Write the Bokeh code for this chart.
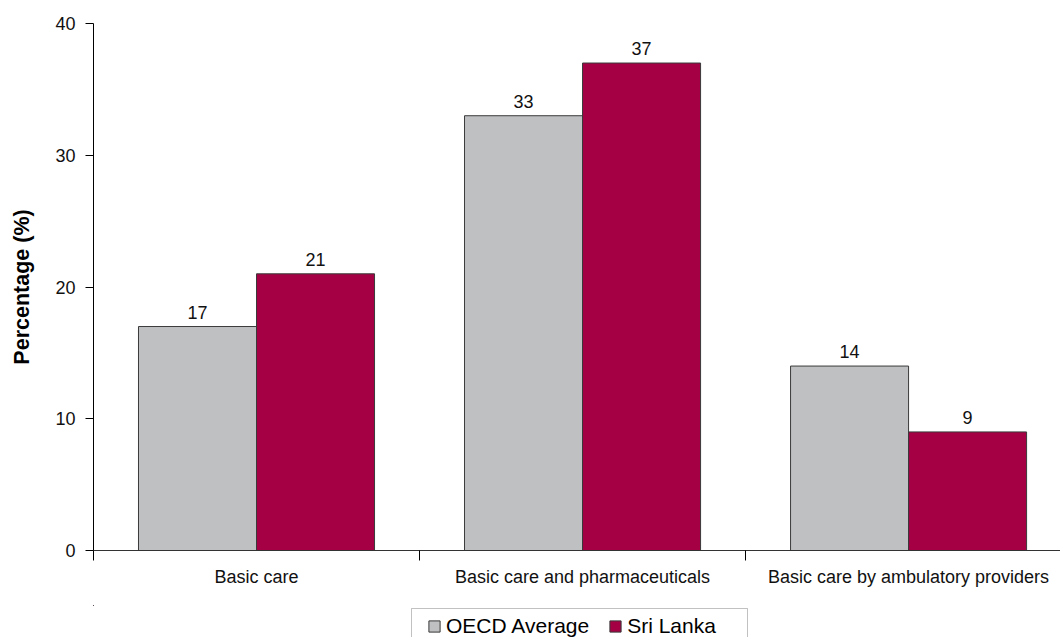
from bokeh.plotting import figure
from bokeh.layouts import column
from bokeh.models import (ColumnDataSource, FixedTicker, Legend, LegendItem, Range1d,
                          BoxAnnotation)
from bokeh.transform import dodge
from bokeh.core.properties import value
from bokeh.embed import file_html
from bokeh.resources import INLINE

categories = ["Basic care", "Basic care and pharmaceuticals", "Basic care by ambulatory providers"]
oecd = [17, 33, 14]
sri_lanka = [21, 37, 9]
series_names = ["OECD Average", "Sri Lanka"]
y_ticks = [0, 10, 20, 30, 40]

GRAY = "#bfc0c2"
RED = "#a50044"
EDGE = "#3a3a3a"
FONT = "Liberation Sans"
BW = 0.362

xs = [i + 0.5 for i in range(len(categories))]
src = ColumnDataSource(dict(x=xs, oecd=oecd, sl=sri_lanka,
                            oecd_t=[str(v) for v in oecd], sl_t=[str(v) for v in sri_lanka]))

p = figure(width=1060, height=605, output_backend="svg", toolbar_location=None,
           x_range=Range1d(0, 2.966), y_range=Range1d(0, 40),
           min_border_left=93, min_border_right=0, min_border_top=23, min_border_bottom=55)
p.outline_line_color = None
p.grid.visible = False
p.background_fill_color = "white"

r1 = p.vbar(x=dodge("x", -BW / 2, range=p.x_range), top="oecd", width=BW, source=src,
            fill_color=GRAY, line_color=EDGE, line_width=1)
r2 = p.vbar(x=dodge("x", BW / 2, range=p.x_range), top="sl", width=BW, source=src,
            fill_color=RED, line_color=EDGE, line_width=1)

p.text(x=dodge("x", -BW / 2, range=p.x_range), y="oecd", text="oecd_t", source=src,
       text_align="center", text_baseline="bottom", y_offset=-8,
       text_font_size="18px", text_font=value(FONT), text_color="#111111")
p.text(x=dodge("x", BW / 2, range=p.x_range), y="sl", text="sl_t", source=src,
       text_align="center", text_baseline="bottom", y_offset=-8,
       text_font_size="18px", text_font=value(FONT), text_color="#111111")

# y axis
ya = p.yaxis[0]
ya.ticker = FixedTicker(ticks=y_ticks)
ya.minor_tick_line_color = None
ya.major_tick_in = 0
ya.major_tick_out = 8
ya.major_tick_line_color = "black"
ya.axis_line_color = "black"
ya.major_label_text_font = FONT
ya.major_label_text_font_size = "18px"
ya.major_label_text_color = "#111111"
ya.major_label_standoff = 10
ya.axis_label = "Percentage (%)"
ya.axis_label_text_font = FONT
ya.axis_label_text_font_size = "21.5px"
ya.axis_label_text_font_style = "bold"
ya.axis_label_text_color = "black"
ya.axis_label_standoff = 18

# x axis: labels at centers, tick marks at category boundaries (minor ticks)
xa = p.xaxis[0]
xa.ticker = FixedTicker(ticks=xs, minor_ticks=list(range(len(categories) + 1)))
xa.major_label_overrides = {x: c for x, c in zip(xs, categories)}
xa.major_tick_line_color = None
xa.major_tick_out = 10
xa.major_tick_in = 0
xa.minor_tick_in = 0
xa.minor_tick_out = 10
xa.minor_tick_line_color = "black"
xa.axis_line_color = "#333333"
xa.major_label_text_font = FONT
xa.major_label_text_font_size = "18px"
xa.major_label_text_color = "#111111"
xa.major_label_standoff = 6

# legend strip below the chart; its ranges are in page pixels
lf = figure(width=1060, height=32, output_backend="svg", toolbar_location=None,
            x_range=Range1d(93, 1060), y_range=Range1d(637, 605),
            min_border=0, min_border_left=0, min_border_right=0,
            min_border_top=0, min_border_bottom=0)
lf.axis.visible = False
lf.grid.visible = False
lf.outline_line_color = None
# legend proxies (shifted far out of view)
l1 = lf.vbar(x=dodge("x", -5000, range=lf.x_range), top="oecd", width=BW, source=src,
             fill_color=GRAY, line_color=EDGE)
l2 = lf.vbar(x=dodge("x", -5000, range=lf.x_range), top="sl", width=BW, source=src,
             fill_color=RED, line_color=EDGE)

legend = Legend(items=[LegendItem(label=series_names[0], renderers=[l1]),
                       LegendItem(label=series_names[1], renderers=[l2])],
                orientation="horizontal", location=(334, -1),
                label_text_font=FONT, label_text_font_size="21px", label_text_color="black",
                glyph_width=14, glyph_height=14, spacing=19, label_standoff=5,
                padding=2, margin=0,
                border_line_color=None, background_fill_alpha=0,
                label_height=14)
lf.add_layout(legend, "center")
lf.add_layout(BoxAnnotation(left=411, right=747, top=608, bottom=650,
                            fill_alpha=0, line_color="#333333", line_width=1,
                            editable=False))

layout = column(p, lf, spacing=0)
open("out.html", "w").write(file_html(layout, INLINE))
